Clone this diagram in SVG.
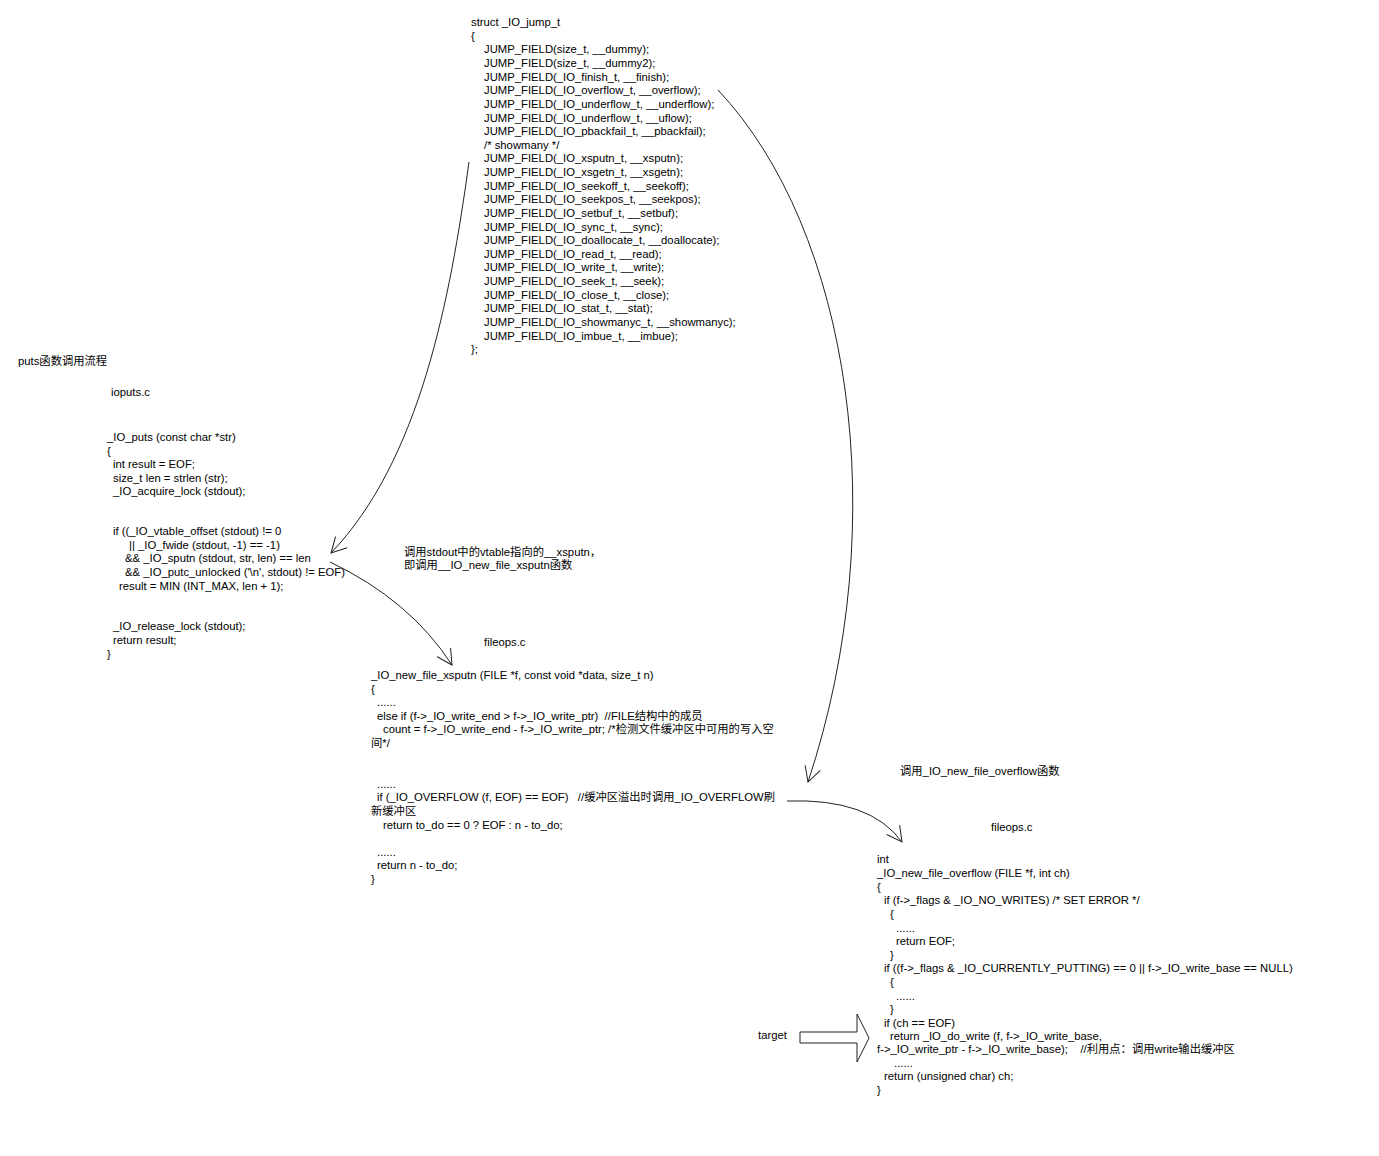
<svg xmlns="http://www.w3.org/2000/svg" width="1379" height="1156" viewBox="0 0 1379 1156">
<style>
text{font-family:"Liberation Sans","Noto Sans CJK SC",sans-serif;font-size:11.3px;fill:#000;white-space:pre}
.c{fill:none;stroke:#222;stroke-width:1}
</style>
<defs>
<marker id="ah" viewBox="0 0 20 20" refX="17" refY="10" markerWidth="20" markerHeight="20" markerUnits="userSpaceOnUse" orient="auto">
<path d="M2,2 L17,10 L2,18" fill="none" stroke="#222" stroke-width="1"/>
</marker>
</defs>
<rect width="1379" height="1156" fill="#fff"/>
<g id="connectors">
<path class="c" d="M469,162 C450,300 420,460 331,553" marker-end="url(#ah)"/>
<path class="c" d="M330,562 Q410,600 452,665" marker-end="url(#ah)"/>
<path class="c" d="M718,90 C850,230 895,520 808,782" marker-end="url(#ah)"/>
<path class="c" d="M787,801 Q870,798 902,842" marker-end="url(#ah)"/>
</g>
<g id="struct_jump">
<text x="471" y="26">struct _IO_jump_t</text>
<text x="471" y="40">{</text>
<text x="484" y="53">JUMP_FIELD(size_t, __dummy);</text>
<text x="484" y="67">JUMP_FIELD(size_t, __dummy2);</text>
<text x="484" y="81">JUMP_FIELD(_IO_finish_t, __finish);</text>
<text x="484" y="94">JUMP_FIELD(_IO_overflow_t, __overflow);</text>
<text x="484" y="108">JUMP_FIELD(_IO_underflow_t, __underflow);</text>
<text x="484" y="122">JUMP_FIELD(_IO_underflow_t, __uflow);</text>
<text x="484" y="135">JUMP_FIELD(_IO_pbackfail_t, __pbackfail);</text>
<text x="484" y="149">/* showmany */</text>
<text x="484" y="162">JUMP_FIELD(_IO_xsputn_t, __xsputn);</text>
<text x="484" y="176">JUMP_FIELD(_IO_xsgetn_t, __xsgetn);</text>
<text x="484" y="190">JUMP_FIELD(_IO_seekoff_t, __seekoff);</text>
<text x="484" y="203">JUMP_FIELD(_IO_seekpos_t, __seekpos);</text>
<text x="484" y="217">JUMP_FIELD(_IO_setbuf_t, __setbuf);</text>
<text x="484" y="231">JUMP_FIELD(_IO_sync_t, __sync);</text>
<text x="484" y="244">JUMP_FIELD(_IO_doallocate_t, __doallocate);</text>
<text x="484" y="258">JUMP_FIELD(_IO_read_t, __read);</text>
<text x="484" y="271">JUMP_FIELD(_IO_write_t, __write);</text>
<text x="484" y="285">JUMP_FIELD(_IO_seek_t, __seek);</text>
<text x="484" y="299">JUMP_FIELD(_IO_close_t, __close);</text>
<text x="484" y="312">JUMP_FIELD(_IO_stat_t, __stat);</text>
<text x="484" y="326">JUMP_FIELD(_IO_showmanyc_t, __showmanyc);</text>
<text x="484" y="340">JUMP_FIELD(_IO_imbue_t, __imbue);</text>
<text x="471" y="353">};</text>
</g>
<g id="title">
<text x="18" y="365">puts函数调用流程</text>
</g>
<g id="ioputs">
<text x="111" y="396">ioputs.c</text>
<text x="107" y="441">_IO_puts (const char *str)</text>
<text x="107" y="455">{</text>
<text x="113" y="468">int result = EOF;</text>
<text x="113" y="482">size_t len = strlen (str);</text>
<text x="113" y="495">_IO_acquire_lock (stdout);</text>
<text x="113" y="535">if ((_IO_vtable_offset (stdout) != 0</text>
<text x="129" y="549">|| _IO_fwide (stdout, -1) == -1)</text>
<text x="125" y="562">&amp;&amp; _IO_sputn (stdout, str, len) == len</text>
<text x="125" y="576">&amp;&amp; _IO_putc_unlocked ('\n', stdout) != EOF)</text>
<text x="119" y="590">result = MIN (INT_MAX, len + 1);</text>
<text x="113" y="630">_IO_release_lock (stdout);</text>
<text x="113" y="644">return result;</text>
<text x="107" y="658">}</text>
</g>
<g id="label_xsputn">
<text x="404" y="556">调用stdout中的vtable指向的__xsputn，</text>
<text x="404" y="569">即调用__IO_new_file_xsputn函数</text>
</g>
<g id="xsputn">
<text x="484" y="646">fileops.c</text>
<text x="371" y="679">_IO_new_file_xsputn (FILE *f, const void *data, size_t n)</text>
<text x="371" y="693">{</text>
<text x="377" y="706">......</text>
<text x="377" y="720">else if (f-&gt;_IO_write_end &gt; f-&gt;_IO_write_ptr)  //FILE结构中的成员</text>
<text x="383" y="733">count = f-&gt;_IO_write_end - f-&gt;_IO_write_ptr; /*检测文件缓冲区中可用的写入空</text>
<text x="371" y="747">间*/</text>
<text x="377" y="788">......</text>
<text x="377" y="801">if (_IO_OVERFLOW (f, EOF) == EOF)   //缓冲区溢出时调用_IO_OVERFLOW刷</text>
<text x="371" y="815">新缓冲区</text>
<text x="383" y="829">return to_do == 0 ? EOF : n - to_do;</text>
<text x="377" y="856">......</text>
<text x="377" y="869">return n - to_do;</text>
<text x="371" y="883">}</text>
</g>
<g id="label_overflow">
<text x="900" y="775">调用_IO_new_file_overflow函数</text>
</g>
<g id="overflow">
<text x="991" y="831">fileops.c</text>
<text x="877" y="863">int</text>
<text x="877" y="877">_IO_new_file_overflow (FILE *f, int ch)</text>
<text x="877" y="891">{</text>
<text x="884" y="904">if (f-&gt;_flags &amp; _IO_NO_WRITES) /* SET ERROR */</text>
<text x="890" y="918">{</text>
<text x="896" y="932">......</text>
<text x="896" y="945">return EOF;</text>
<text x="890" y="959">}</text>
<text x="884" y="972">if ((f-&gt;_flags &amp; _IO_CURRENTLY_PUTTING) == 0 || f-&gt;_IO_write_base == NULL)</text>
<text x="890" y="986">{</text>
<text x="896" y="1000">......</text>
<text x="890" y="1013">}</text>
<text x="884" y="1027">if (ch == EOF)</text>
<text x="890" y="1040">return _IO_do_write (f, f-&gt;_IO_write_base,</text>
<text x="877" y="1053">f-&gt;_IO_write_ptr - f-&gt;_IO_write_base);    //利用点：调用write输出缓冲区</text>
<text x="894" y="1067">......</text>
<text x="884" y="1080">return (unsigned char) ch;</text>
<text x="877" y="1094">}</text>
</g>
<g id="target">
<text x="758" y="1039">target</text>
<polygon points="800,1032 857,1032 857,1014 869,1038 857,1062 857,1043 800,1043" fill="#fff" stroke="#222" stroke-width="1"/>
</g>
</svg>
